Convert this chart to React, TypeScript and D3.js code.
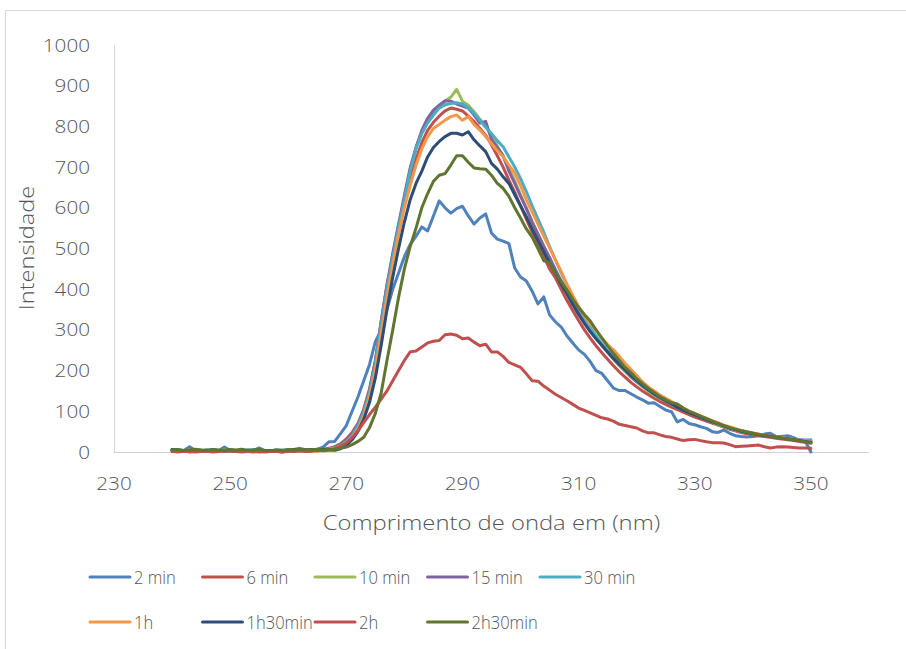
import React from 'react';
import * as d3 from 'd3';

// x categories (nm)
const wavelengths: number[] = d3.range(240, 351);

const seriesNames = ['2 min', '6 min', '10 min', '15 min', '30 min', '1h', '1h30min', '2h', '2h30min'];
const seriesColors = ['#4F81BD', '#C0504D', '#9BBB59', '#8064A2', '#4BACC6', '#F79646', '#2C4D75', '#C0504D', '#5F7530'];

const s2min = [
  5, 4, 3, 13, 4, 3, 5, 2, 3, 12,
  4, 3, 2, 5, 4, 10, 3, 2, 4, 3,
  5, 6, 9, 5, 4, 7,
  12, 25, 26, 45, 65, 100, 135, 175, 215, 271,
  300, 350, 400, 440, 480, 510, 530, 553, 543, 580,
  617, 600, 587, 598, 604, 580, 560, 575, 585, 538,
  523, 518, 512, 452, 430, 420, 395, 364, 381, 337,
  320, 307, 285, 268, 251, 240, 222, 200, 193, 175,
  157, 151, 151, 143, 135, 128, 120, 121, 112, 103,
  99, 74, 80, 70, 67, 62, 58, 50, 48, 54,
  46, 40, 38, 37, 38, 40, 44, 46, 38, 38,
  40, 35, 29, 27, 0,
];
const s6min = [
  2, 1, 3, 0, 2, 4, 1, 2, 3, 1,
  2, 4, 2, 1, 0, 2, 3, 1, 2, 0,
  3, 2, 4, 2, 3, 5,
  6, 9, 13, 20, 32, 48, 70, 105, 155, 225,
  320, 410, 470, 540, 610, 670, 720, 760, 790, 810,
  825, 838, 845, 842, 838, 825, 812, 795, 778, 755,
  728, 700, 668, 638, 605, 572, 540, 510, 480, 450,
  428, 400, 372, 347, 323, 300, 280, 261, 244, 228,
  212, 197, 184, 171, 160, 150, 141, 132, 124, 117,
  110, 104, 98, 92, 86, 81, 76, 71, 66, 61,
  56, 52, 48, 45, 42, 40, 38, 36, 34, 32,
  30, 28, 26, 24, 22,
];
const s10min = [
  3, 2, 4, 1, 3, 5, 2, 3, 1, 2,
  4, 3, 2, 1, 3, 2, 0, 1, 2, 1,
  3, 2, 4, 3, 5, 4,
  5, 7, 10, 16, 26, 42, 66, 100, 150, 220,
  318, 408, 485, 555, 625, 695, 748, 785, 815, 832,
  848, 862, 872, 891, 862, 852, 836, 818, 800, 778,
  752, 726, 697, 666, 632, 600, 566, 536, 506, 476,
  446, 420, 393, 368, 345, 321, 300, 280, 262, 245,
  228, 212, 198, 184, 172, 160, 150, 140, 132, 125,
  117, 110, 104, 98, 92, 86, 80, 74, 66, 63,
  58, 54, 51, 48, 45, 42, 40, 38, 36, 34,
  32, 30, 28, 26, 24,
];
const s15min = [
  4, 3, 2, 5, 3, 2, 4, 6, 3, 2,
  1, 3, 4, 2, 3, 5, 2, 3, 1, 2,
  4, 3, 5, 6, 4, 7,
  6, 8, 11, 17, 27, 44, 68, 102, 152, 222,
  320, 410, 488, 560, 630, 698, 748, 790, 820, 840,
  852, 863, 862, 855, 850, 845, 828, 808, 812, 768,
  748, 728, 690, 660, 628, 598, 565, 535, 505, 478,
  448, 420, 395, 370, 345, 322, 302, 282, 262, 246,
  230, 214, 200, 186, 173, 162, 152, 142, 133, 125,
  118, 111, 104, 98, 92, 87, 80, 75, 70, 64,
  60, 55, 52, 49, 46, 43, 40, 39, 37, 35,
  33, 31, 30, 29, 28,
];
const s30min = [
  5, 4, 3, 2, 4, 3, 5, 2, 4, 3,
  2, 4, 3, 5, 2, 3, 4, 2, 3, 5,
  4, 3, 2, 4, 5, 3,
  5, 7, 10, 15, 25, 40, 63, 97, 146, 215,
  312, 400, 478, 550, 620, 690, 745, 782, 808, 828,
  845, 853, 856, 858, 855, 846, 832, 815, 798, 782,
  765, 750, 725, 700, 672, 640, 605, 572, 540, 505,
  472, 440, 410, 382, 357, 330, 306, 285, 266, 248,
  232, 216, 202, 188, 175, 163, 152, 143, 134, 126,
  118, 111, 104, 98, 91, 86, 80, 74, 69, 64,
  59, 55, 51, 48, 45, 43, 40, 38, 37, 35,
  33, 31, 30, 29, 30,
];
const s1h = [
  4, 2, 3, 5, 2, 1, 3, 4, 2, 5,
  3, 2, 4, 3, 1, 2, 0, 2, 3, 4,
  1, 3, 2, 4, 3, 2,
  4, 6, 9, 14, 22, 36, 56, 88, 135, 200,
  290, 380, 460, 535, 600, 655, 705, 745, 775, 795,
  805, 815, 824, 828, 815, 824, 805, 791, 775, 758,
  740, 726, 705, 685, 655, 620, 590, 560, 530, 502,
  472, 443, 412, 384, 357, 335, 315, 300, 280, 264,
  251, 235, 218, 203, 188, 172, 160, 150, 140, 132,
  124, 116, 108, 101, 95, 89, 83, 77, 72, 66,
  62, 57, 53, 50, 47, 44, 41, 39, 37, 35,
  33, 31, 29, 27, 25,
];
const s1h30min = [
  6, 5, 4, 3, 5, 4, 3, 5, 4, 3,
  5, 4, 3, 4, 5, 3, 4, 3, 5, 4,
  3, 6, 5, 4, 6, 5,
  6, 5, 4, 8, 16, 30, 50, 80, 122, 182,
  262, 350, 430, 500, 565, 620, 660, 690, 725, 748,
  763, 775, 783, 783, 779, 787, 767, 752, 738, 709,
  695, 676, 660, 632, 605, 578, 548, 520, 492, 465,
  440, 412, 388, 362, 338, 316, 296, 278, 262, 246,
  230, 216, 202, 188, 176, 164, 153, 143, 134, 126,
  118, 110, 103, 97, 91, 85, 80, 74, 69, 64,
  59, 55, 51, 48, 45, 42, 40, 38, 36, 34,
  32, 30, 28, 26, 24,
];
const s2h = [
  1, 0, 2, 1, 0, 1, 2, 0, 1, 3,
  2, 1, 0, 1, 2, 0, 1, 2, 1, 0,
  2, 1, 3, 1, 2, 4,
  3, 5, 8, 14, 22, 35, 52, 72, 92, 110,
  130, 150, 175, 200, 225, 246, 248, 258, 268, 272,
  274, 288, 290, 287, 278, 280, 270, 261, 265, 246,
  246, 235, 220, 214, 208, 192, 175, 174, 162, 152,
  142, 134, 126, 117, 108, 102, 96, 90, 84, 81,
  76, 68, 65, 62, 59, 52, 47, 47, 42, 38,
  36, 32, 28, 30, 31, 28, 25, 23, 23, 22,
  18, 13, 14, 15, 16, 17, 13, 10, 12, 13,
  12, 11, 10, 10, 9,
];
const s2h30min = [
  5, 6, 4, 5, 7, 5, 4, 6, 5, 4,
  6, 5, 7, 4, 5, 6, 4, 3, 5, 4,
  6, 5, 7, 6, 5, 6,
  5, 6, 7, 9, 12, 18, 26, 36, 60, 95,
  145, 225, 300, 380, 450, 505, 550, 600, 635, 665,
  680, 684, 705, 728, 728, 712, 698, 696, 695, 680,
  660, 648, 628, 600, 575, 548, 528, 500, 470, 466,
  438, 418, 398, 375, 355, 338, 322, 300, 280, 260,
  242, 225, 208, 195, 180, 168, 156, 146, 136, 128,
  121, 118, 108, 100, 94, 88, 82, 76, 70, 65,
  60, 56, 52, 49, 46, 43, 41, 38, 36, 34,
  32, 30, 28, 25, 22,
];

const seriesValues = [s2min, s6min, s10min, s15min, s30min, s1h, s1h30min, s2h, s2h30min];

const xTicks = [230, 250, 270, 290, 310, 330, 350];
const yTicks = [0, 100, 200, 300, 400, 500, 600, 700, 800, 900, 1000];

const FONT = '"Open Sans", sans-serif';
const TXT = '#555555';

export default function App() {
  const x = d3.scaleLinear().domain([230, 360]).range([114, 869]);
  const y = d3.scaleLinear().domain([0, 1000]).range([452, 45]);
  const line = (vals: number[]) =>
    d3
      .line<number>()
      .x((_, i) => x(wavelengths[i]))
      .y((d) => y(d))(vals) || '';

  const legendCols = 5;
  const legendX0 = 90;
  const legendDx = 112.5;
  const legendY0 = 577;
  const legendDy = 45;

  return (
    <svg
      width={906}
      height={649}
      style={{ position: 'fixed', left: 0, top: 0, background: '#fff' }}
      fontFamily={FONT}
      fontWeight={300}
    >
      <rect x={0} y={0} width={906} height={649} fill="#fff" />
      <rect x={5.5} y={10.5} width={920} height={660} fill="none" stroke="#D9D9D9" strokeWidth={1} />

      {/* axes */}
      <line x1={114.5} y1={45} x2={114.5} y2={452} stroke="#D9D9D9" strokeWidth={1} />
      <line x1={114} y1={452.5} x2={869} y2={452.5} stroke="#D0D0D0" strokeWidth={1} />

      {yTicks.map((t) => (
        <text
          key={'y' + t}
          transform={`translate(90,${y(t) + 6.5}) scale(1.15,1)`}
          textAnchor="end"
          fontSize={18}
          fill={TXT}
        >
          {t}
        </text>
      ))}
      {xTicks.map((t) => (
        <text
          key={'x' + t}
          transform={`translate(${x(t)},490) scale(1.15,1)`}
          textAnchor="middle"
          fontSize={18}
          fill={TXT}
        >
          {t}
        </text>
      ))}

      <text
        transform={`translate(${(114 + 869) / 2},530) scale(1.19,1)`}
        textAnchor="middle"
        fontSize={20}
        fill={TXT}
      >
        Comprimento de onda em (nm)
      </text>
      <text
        transform={`translate(34,248) rotate(-90) scale(1.18,1)`}
        textAnchor="middle"
        fontSize={20}
        fill={TXT}
      >
        Intensidade
      </text>

      {/* series */}
      {seriesValues.map((vals, i) => (
        <path
          key={'s' + i}
          d={line(vals)}
          fill="none"
          stroke={seriesColors[i]}
          strokeWidth={3}
          strokeLinejoin="round"
          strokeLinecap="round"
        />
      ))}

      {/* legend */}
      {seriesNames.map((name, i) => {
        const col = i % legendCols;
        const row = Math.floor(i / legendCols);
        const lx = legendX0 + col * legendDx;
        const ly = legendY0 + row * legendDy;
        return (
          <g key={'l' + i}>
            <line x1={lx} y1={ly} x2={lx + 40} y2={ly} stroke={seriesColors[i]} strokeWidth={3} strokeLinecap="round" />
            <text
              transform={`translate(${lx + 44},${ly + 6.5}) scale(0.92,1)`}
              fontSize={18}
              fill={TXT}
            >
              {name}
            </text>
          </g>
        );
      })}
    </svg>
  );
}
